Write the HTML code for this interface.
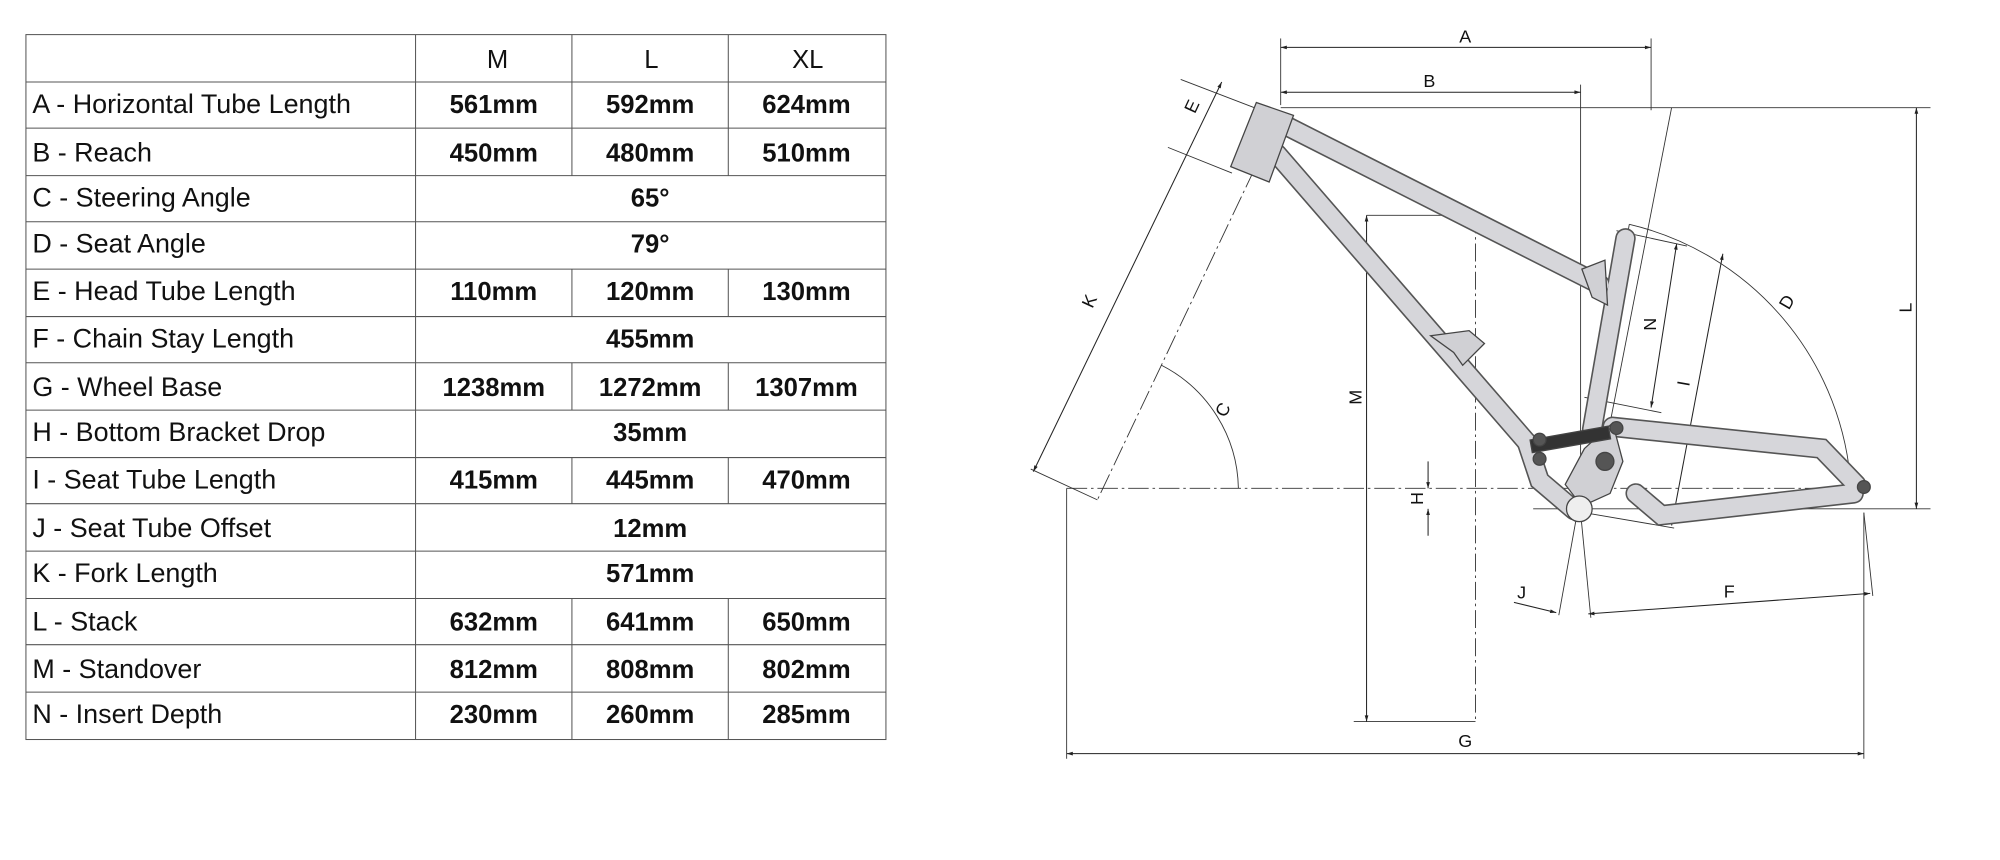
<!DOCTYPE html>
<html><head><meta charset="utf-8"><style>
html,body{margin:0;padding:0;background:#fff;width:2000px;height:860px;overflow:hidden}
svg{display:block}
text{font-family:"Liberation Sans",sans-serif}
</style></head><body>
<svg width="2000" height="860" viewBox="0 0 1560 671" xmlns="http://www.w3.org/2000/svg">
<defs>
<marker id="ar" viewBox="0 0 10 10" refX="10" refY="5" markerWidth="8" markerHeight="6" orient="auto-start-reverse"><path d="M0,2 L10,5 L0,8 z" fill="#222"/></marker>
</defs>
<!-- TABLE -->
<g stroke="#555" stroke-width="0.8" fill="none">
<rect x="20" y="27" width="671" height="550"/>
<line x1="324" y1="27" x2="324" y2="577"/>
<line x1="20" y1="64" x2="691" y2="64"/><line x1="20" y1="100" x2="691" y2="100"/>
<line x1="20" y1="137" x2="691" y2="137"/><line x1="20" y1="173" x2="691" y2="173"/>
<line x1="20" y1="210" x2="691" y2="210"/><line x1="20" y1="247" x2="691" y2="247"/>
<line x1="20" y1="283" x2="691" y2="283"/><line x1="20" y1="320" x2="691" y2="320"/>
<line x1="20" y1="357" x2="691" y2="357"/><line x1="20" y1="393" x2="691" y2="393"/>
<line x1="20" y1="430" x2="691" y2="430"/><line x1="20" y1="467" x2="691" y2="467"/>
<line x1="20" y1="503" x2="691" y2="503"/><line x1="20" y1="540" x2="691" y2="540"/>
<line x1="446" y1="27" x2="446" y2="137"/><line x1="568" y1="27" x2="568" y2="137"/>
<line x1="446" y1="210" x2="446" y2="247"/><line x1="568" y1="210" x2="568" y2="247"/>
<line x1="446" y1="283" x2="446" y2="320"/><line x1="568" y1="283" x2="568" y2="320"/>
<line x1="446" y1="357" x2="446" y2="393"/><line x1="568" y1="357" x2="568" y2="393"/>
<line x1="446" y1="467" x2="446" y2="577"/><line x1="568" y1="467" x2="568" y2="577"/>
</g>
<g font-size="20" fill="#111">
<g text-anchor="middle"><text x="388" y="53">M</text><text x="508" y="53">L</text><text x="630" y="53">XL</text></g>
<g font-size="21">
<text x="25" y="88">A - Horizontal Tube Length</text>
<text x="25" y="126">B - Reach</text>
<text x="25" y="161">C - Steering Angle</text>
<text x="25" y="197">D - Seat Angle</text>
<text x="25" y="234">E - Head Tube Length</text>
<text x="25" y="271">F - Chain Stay Length</text>
<text x="25" y="309">G - Wheel Base</text>
<text x="25" y="344">H - Bottom Bracket Drop</text>
<text x="25" y="381">I - Seat Tube Length</text>
<text x="25" y="419">J - Seat Tube Offset</text>
<text x="25" y="454">K - Fork Length</text>
<text x="25" y="492">L - Stack</text>
<text x="25" y="529">M - Standover</text>
<text x="25" y="564">N - Insert Depth</text>
</g>
</g>
<g font-size="20" font-weight="bold" fill="#111" text-anchor="middle">
<text x="385" y="88">561mm</text><text x="507" y="88">592mm</text><text x="629" y="88">624mm</text>
<text x="385" y="126">450mm</text><text x="507" y="126">480mm</text><text x="629" y="126">510mm</text>
<text x="507" y="161">65°</text><text x="507" y="197">79°</text>
<text x="385" y="234">110mm</text><text x="507" y="234">120mm</text><text x="629" y="234">130mm</text>
<text x="507" y="271">455mm</text>
<text x="385" y="309">1238mm</text><text x="507" y="309">1272mm</text><text x="629" y="309">1307mm</text>
<text x="507" y="344">35mm</text>
<text x="385" y="381">415mm</text><text x="507" y="381">445mm</text><text x="629" y="381">470mm</text>
<text x="507" y="419">12mm</text><text x="507" y="454">571mm</text>
<text x="385" y="492">632mm</text><text x="507" y="492">641mm</text><text x="629" y="492">650mm</text>
<text x="385" y="529">812mm</text><text x="507" y="529">808mm</text><text x="629" y="529">802mm</text>
<text x="385" y="564">230mm</text><text x="507" y="564">260mm</text><text x="629" y="564">285mm</text>
</g>

<!-- DIAGRAM lines -->
<g transform="translate(-4,0)">
<g stroke="#333" stroke-width="0.7" fill="none">
<line x1="1003" y1="30" x2="1003" y2="82"/><line x1="1292" y1="30" x2="1292" y2="86"/>
<line x1="1237" y1="66" x2="1237" y2="400"/>
<line x1="1003" y1="84" x2="1510" y2="84"/>
<line x1="1200" y1="397" x2="1510" y2="397"/>
<line x1="836" y1="381" x2="836" y2="592"/><line x1="1458" y1="400" x2="1458" y2="592"/>
<line x1="1070" y1="168" x2="1155" y2="168"/><line x1="1060" y1="563" x2="1155" y2="563"/>
<line x1="1155" y1="168" x2="1155" y2="563" stroke-dasharray="14 3 2 3"/>
<line x1="836" y1="381" x2="1460" y2="381" stroke-dasharray="16 3 2 3"/>
<line x1="993" y1="110" x2="860" y2="390" stroke-dasharray="16 3 2 3"/>
<line x1="1308" y1="84" x2="1260" y2="330"/>
<line x1="1275" y1="175" x2="1220" y2="480"/><line x1="1237" y1="400" x2="1245" y2="482"/>
<line x1="1458" y1="400" x2="1465" y2="465"/>
<line x1="925" y1="62" x2="985" y2="85"/><line x1="915" y1="115" x2="965" y2="135"/>
<line x1="808" y1="366" x2="860" y2="390"/>
<line x1="1265" y1="180" x2="1320" y2="192"/><line x1="1240" y1="310" x2="1300" y2="322"/>
<line x1="1240" y1="400" x2="1310" y2="412"/>
<path d="M1275,175 A225,225 0 0 1 1448,381"/>
<path d="M910,285 A110,110 0 0 1 970,381"/>
</g>
<g stroke="#222" stroke-width="0.8" fill="none" marker-start="url(#ar)" marker-end="url(#ar)">
<line x1="1003" y1="37" x2="1292" y2="37"/>
<line x1="1003" y1="72" x2="1237" y2="72"/>
<line x1="1499" y1="84" x2="1499" y2="397"/>
<line x1="1070" y1="168" x2="1070" y2="563"/>
<line x1="836" y1="588" x2="1458" y2="588"/>
<line x1="957" y1="64" x2="810" y2="368"/>
<line x1="1312" y1="190" x2="1292" y2="318"/>
<line x1="1348" y1="198" x2="1308" y2="410"/>
<line x1="1243" y1="479" x2="1463" y2="463"/>
</g>
<g stroke="#222" stroke-width="0.8" fill="none">
<line x1="1118" y1="360" x2="1118" y2="381" marker-end="url(#ar)"/>
<line x1="1118" y1="418" x2="1118" y2="397" marker-end="url(#ar)"/>
<line x1="1185" y1="470" x2="1218" y2="478" marker-end="url(#ar)"/>
</g>
<!-- FRAME -->
<g stroke-linecap="round" fill="none">
<g stroke="#555" stroke-width="16">
<line x1="1005" y1="97" x2="1252" y2="222"/>
<line x1="1000" y1="120" x2="1195" y2="345"/>
<line x1="1272" y1="186" x2="1246" y2="335"/>
<path d="M1195,345 L1205,375 L1232,398"/>
<path d="M1262,333 L1425,350 L1452,378"/>
<path d="M1280,385 L1300,402 L1450,385"/>
</g>
<g stroke="#d6d6da" stroke-width="13.5">
<line x1="1005" y1="97" x2="1252" y2="222"/>
<line x1="1000" y1="120" x2="1195" y2="345"/>
<line x1="1272" y1="186" x2="1246" y2="335"/>
<path d="M1195,345 L1205,375 L1232,398"/>
<path d="M1262,333 L1425,350 L1452,378"/>
<path d="M1280,385 L1300,402 L1450,385"/>
</g>
</g>
<g stroke="#444" stroke-width="1" fill="#d0d0d4">
<polygon points="984,80 1013,90 994,142 964,130"/>
<polygon points="1238,210 1256,203 1258,238 1246,232"/>
<polygon points="1240,350 1262,330 1270,360 1260,385 1238,395 1225,378"/>
<polygon points="1120,262 1150,258 1162,268 1145,285 1138,275"/>
<circle cx="1236" cy="397" r="10" fill="#eee"/>
<rect x="1198" y="338" width="62" height="10" fill="#333" transform="rotate(-10 1228 343)"/>
<circle cx="1205" cy="343" r="5" fill="#555"/><circle cx="1205" cy="358" r="5" fill="#555"/>
<circle cx="1265" cy="334" r="5" fill="#555"/><circle cx="1256" cy="360" r="7" fill="#555"/>
<circle cx="1458" cy="380" r="5" fill="#555"/>
</g>
<!-- LABELS -->
<g font-size="14" fill="#111" text-anchor="middle">
<text x="1147" y="33">A</text><text x="1119" y="68">B</text>
<text x="1147" y="583">G</text><text x="1353" y="466">F</text><text x="1191" y="467">J</text>
<text transform="translate(1495,240) rotate(-90)">L</text>
<text transform="translate(1066,310) rotate(-90)">M</text>
<text transform="translate(1114,389) rotate(-90)">H</text>
<text transform="translate(1296,253) rotate(-90)">N</text>
<text transform="translate(1322,300) rotate(-80)">I</text>
<text transform="translate(1402,238) rotate(-60)">D</text>
<text transform="translate(962,322) rotate(-60)">C</text>
<text transform="translate(858,237) rotate(-65)">K</text>
<text transform="translate(938,85) rotate(-65)">E</text>
</g>
</g>
</svg>
</body></html>
